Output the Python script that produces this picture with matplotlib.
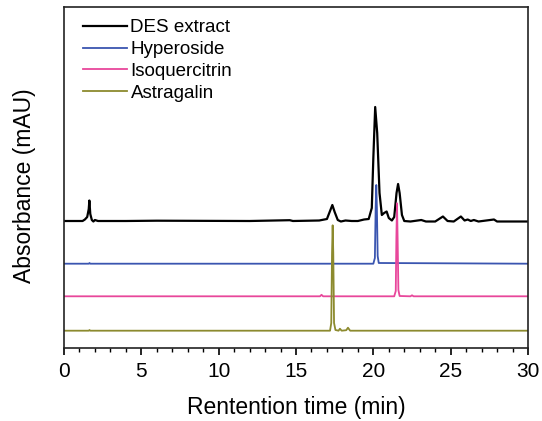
import matplotlib
matplotlib.use("Agg")
import matplotlib.pyplot as plt
from matplotlib.ticker import MultipleLocator

plt.rcParams['font.family'] = ['Liberation Sans', 'DejaVu Sans']

# Chromatogram traces: retention time (min) and stacked absorbance (offset units)
des_t = [0, 1.2, 1.35, 1.5, 1.6, 1.64, 1.7, 1.8, 1.9, 2.0, 2.2, 4.0, 6.0, 12.0,
         14.6, 14.8, 16.5, 17.0, 17.2, 17.35, 17.5, 17.7, 17.9, 18.2, 18.6, 19.0, 19.4,
         19.7, 19.9, 20.0, 20.12, 20.25, 20.4, 20.55, 20.7, 20.86, 21.0, 21.2, 21.35,
         21.5, 21.6, 21.7, 21.85, 22.0, 22.4, 23.1, 23.4, 24.0, 24.5, 24.8, 25.2, 25.66,
         25.9, 26.1, 26.3, 26.5, 26.8, 27.8, 28.0, 30.0]
des_y = [127, 127, 128.5, 131, 139, 147.5, 134, 128, 126.5, 128, 127, 127, 127.3, 127,
         127.8, 127, 127.5, 129, 137, 143, 136, 128, 126.5, 127.5, 127, 127, 128.5,
         129, 140, 190, 241, 215, 155, 133, 135, 136.5, 130, 127.5, 131,
         155, 164, 155, 133, 127, 126.5, 128, 126.5, 126.5, 131.5, 127, 126.5, 131.5,
         127.5, 128.5, 127, 128, 126.5, 128.5, 126.5, 126.5]

hyp_t = [0, 1.6, 1.65, 1.7, 20.0, 20.1, 20.15, 20.19, 20.23, 20.28, 20.35, 30.0]
hyp_y = [84.3, 84.3, 85.0, 84.3, 84.3, 90, 140, 163, 140, 92, 85, 84.3]

iso_t = [0, 16.55, 16.65, 16.75, 21.35, 21.45, 21.49, 21.53, 21.57, 21.62, 21.7,
         22.4, 22.5, 22.6, 30.0]
iso_y = [51.7, 51.7, 53.2, 51.7, 51.7, 57, 110, 144.7, 110, 58, 52, 51.7, 52.7, 51.7, 51.7]

ast_t = [0, 1.6, 1.65, 1.7, 17.2, 17.28, 17.33, 17.37, 17.41, 17.46, 17.55, 17.75,
         17.84, 17.95, 18.25, 18.36, 18.5, 30.0]
ast_y = [17.3, 17.3, 18.0, 17.3, 17.3, 25, 95, 122.7, 95, 25, 18, 17.3,
         19.3, 17.3, 17.8, 20.3, 17.3, 17.3]

labels = ["DES extract", "Hyperoside", "Isoquercitrin", "Astragalin"]
colors = ["#000000", "#3a55b0", "#e8479b", "#8c8a2e"]
widths = [1.6, 1.3, 1.3, 1.3]

x_ticks = [0, 5, 10, 15, 20, 25, 30]

fig = plt.figure(figsize=(5.42, 4.21), dpi=100)
ax = fig.add_axes([64 / 542, 73 / 421, 464 / 542, 341 / 421])

series = [(des_t, des_y), (hyp_t, hyp_y), (iso_t, iso_y), (ast_t, ast_y)]
for (t, y), lab, c, w in zip(series, labels, colors, widths):
    ax.plot(t, y, color=c, lw=w, label=lab)

ax.set_xlim(0, 30)
ax.set_ylim(0, 341)
ax.set_xticks(x_ticks)
ax.xaxis.set_minor_locator(MultipleLocator(1))
ax.set_yticks([])
ax.tick_params(axis='x', which='major', direction='out', length=5, width=1.2,
               labelsize=15, pad=5)
ax.tick_params(axis='x', which='minor', direction='out', length=3, width=1.0)
for s in ax.spines.values():
    s.set_linewidth(1.2)
    s.set_color("#222222")

ax.set_xlabel("Rentention time (min)", fontsize=16.5, labelpad=11)
ax.set_ylabel("Absorbance (mAU)", fontsize=16.5)
ax.yaxis.set_label_coords(-0.06, 0.4765)

leg = ax.legend(loc='upper left', bbox_to_anchor=(0.016, 0.997), frameon=False,
                fontsize=13.5, handlelength=2.35, handletextpad=0.2,
                labelspacing=0.25, borderaxespad=0.2)
for h in leg.get_lines():
    h.set_linewidth(1.6 if h.get_color() == "#000000" else 1.3)

fig.savefig("out.png", dpi=100)
